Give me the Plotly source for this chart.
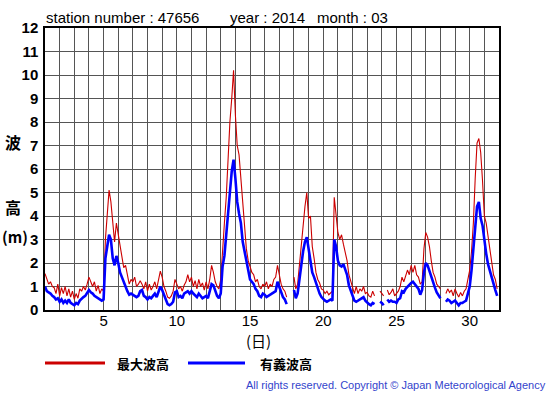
import numpy as np
import plotly.graph_objects as go

# Time grid: 3-hourly samples, day 1.000 .. 31.875
days = np.arange(1, 32, 0.125)

# Maximum wave height (m), one row per day (8 samples per day)
max_wave_rows = [
    [1.55, 1.3, 1.1, 1.2, 1.0, 0.95, 0.7, 1.1],
    [0.6, 0.95, 0.7, 1.0, 0.6, 0.9, 0.55, 0.8],
    [0.45, 0.7, 0.5, 0.9, 0.8, 1.0, 0.85, 1.1],
    [1.4, 1.2, 1.0, 1.2, 0.8, 1.05, 0.7, 0.9],
    [0.8, 3.0, 3.9, 5.1, 4.6, 3.6, 2.9, 3.7],
    [3.2, 2.6, 2.2, 1.8, 1.9, 1.4, 1.1, 1.3],
    [1.2, 1.4, 1.0, 1.1, 1.25, 1.1, 0.9, 1.2],
    [0.8, 1.1, 0.85, 1.0, 1.2, 0.9, 1.3, 1.65],
    [1.4, 1.0, 0.8, 0.55, 0.5, 0.6, 0.8, 1.3],
    [1.1, 0.9, 1.0, 0.8, 1.05, 1.2, 1.5, 1.2],
    [1.4, 1.0, 1.25, 0.9, 1.3, 1.0, 1.15, 0.85],
    [1.2, 0.9, 1.3, 1.9, 1.6, 1.2, 1.0, 0.9],
    [1.3, 2.7, 3.7, 4.8, 6.5, 8.0, 9.0, 10.2],
    [8.3, 7.0, 6.6, 5.6, 4.3, 3.3, 2.6, 2.1],
    [1.8, 1.6, 1.5, 1.2, 1.3, 1.0, 0.9, 1.1],
    [1.0, 1.2, 0.9, 1.1, 1.0, 1.3, 1.4, 1.9],
    [1.5, 1.1, 0.9, 0.8, 0.55, None, None, None],
    [1.4, 0.9, 1.1, 2.0, 2.7, 3.7, 4.4, 5.0],
    [3.9, 4.0, 2.7, 2.2, 1.6, 1.3, 1.15, 0.9],
    [0.85, 0.7, 0.8, 0.65, 0.75, 0.8, 4.8, 4.0],
    [3.3, 3.0, 3.2, 2.8, 2.5, 2.1, 1.5, 1.2],
    [0.9, 0.7, 1.0, 0.7, 0.9, 0.8, 1.0, 0.7],
    [0.75, 0.6, 0.55, 0.8, 0.6, None, None, 0.8],
    [0.7, 0.6, None, 0.85, 0.65, 0.75, 0.9, 0.6],
    [0.7, 0.8, 1.0, 1.4, 1.2, 1.5, 1.7, 1.5],
    [1.9, 1.6, 1.9, 1.5, 1.4, 1.1, 1.2, 2.6],
    [3.3, 3.1, 2.7, 2.1, 1.6, 1.4, 1.1, 1.0],
    [0.9, None, None, 0.7, 0.9, 0.75, 0.85, 0.6],
    [0.9, 0.7, 0.55, 0.75, 0.6, 0.8, 0.9, 1.3],
    [1.7, 2.5, 3.7, 5.6, 7.1, 7.3, 6.7, 5.5],
    [4.0, 3.7, 3.1, 2.5, 2.0, 1.5, 1.3, 0.9],
]

# Significant wave height (m)
sig_wave_rows = [
    [1.0, 0.8, 0.75, 0.7, 0.6, 0.55, 0.45, 0.5],
    [0.35, 0.45, 0.3, 0.4, 0.3, 0.45, 0.3, 0.25],
    [0.2, 0.3, 0.25, 0.4, 0.5, 0.55, 0.6, 0.7],
    [0.85, 0.75, 0.7, 0.6, 0.55, 0.5, 0.45, 0.4],
    [0.45, 2.2, 2.7, 3.2, 3.0, 2.2, 1.9, 2.3],
    [2.0, 1.6, 1.4, 1.15, 1.0, 0.8, 0.65, 0.7],
    [0.65, 0.6, 0.55, 0.6, 0.8, 0.85, 0.6, 0.55],
    [0.45, 0.55, 0.5, 0.6, 0.7, 0.55, 0.8, 1.0],
    [0.85, 0.6, 0.45, 0.25, 0.2, 0.25, 0.35, 0.75],
    [0.8, 0.55, 0.6, 0.5, 0.7, 0.75, 0.8, 0.7],
    [0.8, 0.7, 0.6, 0.55, 0.7, 0.6, 0.5, 0.55],
    [0.6, 0.5, 0.8, 1.1, 1.05, 0.8, 0.6, 0.5],
    [0.7, 1.85, 2.3, 3.2, 4.3, 5.0, 5.9, 6.4],
    [5.6, 4.6, 4.1, 3.7, 2.9, 2.5, 2.1, 1.7],
    [1.3, 1.2, 1.1, 0.9, 0.8, 0.6, 0.55, 0.7],
    [0.65, 0.55, 0.6, 0.65, 0.7, 0.75, 0.8, 1.2],
    [1.0, 0.75, 0.55, 0.45, 0.25, None, None, None],
    [0.85, 0.5, 0.7, 1.2, 1.9, 2.5, 2.9, 3.1],
    [2.6, 2.2, 1.6, 1.4, 1.15, 0.9, 0.7, 0.55],
    [0.45, 0.4, 0.35, 0.4, 0.45, 0.4, 3.0, 2.7],
    [2.1, 1.9, 1.85, 1.95, 1.7, 1.5, 1.05, 0.8],
    [0.55, 0.4, 0.35, 0.4, 0.45, 0.5, 0.55, 0.4],
    [0.3, 0.25, 0.2, 0.3, 0.25, None, None, 0.35],
    [0.3, 0.2, None, 0.45, 0.35, 0.4, 0.35, 0.35],
    [0.3, 0.45, 0.5, 0.8, 0.75, 0.9, 1.0, 1.05],
    [1.15, 1.2, 1.1, 1.0, 0.9, 0.65, 0.85, 1.6],
    [2.0, 1.9, 1.65, 1.4, 1.1, 0.95, 0.75, 0.6],
    [0.5, None, None, 0.35, 0.45, 0.4, 0.3, 0.35],
    [0.4, 0.3, 0.2, 0.3, 0.3, 0.35, 0.4, 0.7],
    [1.0, 1.7, 2.5, 3.4, 4.4, 4.6, 3.9, 3.6],
    [2.9, 2.4, 1.95, 1.65, 1.45, 1.05, 0.85, 0.6],
]

max_wave = [v for row in max_wave_rows for v in row]
sig_wave = [v for row in sig_wave_rows for v in row]

x_tick_vals = [5, 10, 15, 20, 25, 30]
y_tick_vals = list(range(0, 13))

RED = "#CC0000"
BLUE = "#0000FF"
FONT = "Liberation Sans, Arial, sans-serif"
CJK = "Noto Sans CJK JP, sans-serif"

fig = go.Figure()
fig.add_trace(go.Scatter(x=days, y=max_wave, mode="lines",
                         line=dict(color=RED, width=1.1), connectgaps=False,
                         name="最大波高", showlegend=False))
fig.add_trace(go.Scatter(x=days, y=sig_wave, mode="lines",
                         line=dict(color=BLUE, width=2.6), connectgaps=False,
                         name="有義波高", showlegend=False))

L, R, T, B = 45, 56, 28, 85
W, H = 555, 395
pw, ph = W - L - R, H - T - B

def px(xp):
    return (xp - L) / pw

def py(yp):
    return (H - B - yp) / ph

fig.update_layout(
    width=W, height=H,
    margin=dict(l=L, r=R, t=T, b=B, pad=0),
    paper_bgcolor="white", plot_bgcolor="white",
    font=dict(family=FONT, color="black"),
    xaxis=dict(range=[1, 32], tickvals=x_tick_vals, ticks="",
               showgrid=True, gridcolor="#555555", gridwidth=1,
               minor=dict(dtick=1, tick0=0, showgrid=True, gridcolor="#555555", gridwidth=1),
               showline=True, linecolor="black", linewidth=1.5, mirror=True,
               zeroline=False, tickfont=dict(size=15, family=FONT),
               ticklabelstandoff=-4),
    yaxis=dict(range=[0, 12], tickvals=y_tick_vals, ticks="",
               showgrid=True, gridcolor="#555555", gridwidth=1,
               showline=True, linecolor="black", linewidth=1.5, mirror=True,
               zeroline=False, tickfont=dict(size=15, family=FONT, weight="bold"),
               ticklabelstandoff=2),
)

ann = []
def text(x, y, s, size, xanchor="center", family=FONT, color="black", bold=False):
    ann.append(dict(x=px(x), y=py(y), xref="paper", yref="paper", text=s,
                    showarrow=False, xanchor=xanchor, yanchor="middle",
                    font=dict(size=size, family=family, color=color,
                              weight="bold" if bold else "normal")))

text(44, 17, "station number : 47656", 15, xanchor="left")
text(228, 17, "year : 2014", 15, xanchor="left")
text(315, 17, "month : 03", 15, xanchor="left")
text(13, 142, "波", 16, family=CJK, bold=True)
text(13, 207, "高", 16, family=CJK, bold=True)
text(15, 236, "(m)", 15, family=CJK, bold=True)
text(258, 340, "(日)", 15, family=CJK)
text(115, 363, "最大波高", 13, xanchor="left", family=CJK, bold=True)
text(258, 363, "有義波高", 13, xanchor="left", family=CJK, bold=True)
text(548, 385, "All rights reserved. Copyright © Japan Meteorological Agency", 11,
     xanchor="right", color="#3344CC")
fig.update_layout(annotations=ann)

fig.add_shape(type="line", xref="paper", yref="paper", x0=px(45), x1=px(105),
              y0=py(363), y1=py(363), line=dict(color=RED, width=3))
fig.add_shape(type="line", xref="paper", yref="paper", x0=px(188), x1=px(245),
              y0=py(363), y1=py(363), line=dict(color=BLUE, width=3))

fig.write_html("out.html", config={"displayModeBar": False},
               post_script="document.body.style.margin='0';document.body.style.padding='0';")
